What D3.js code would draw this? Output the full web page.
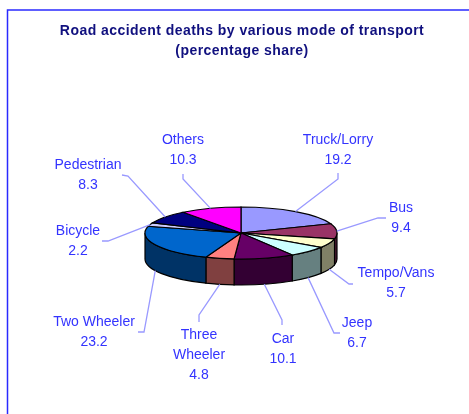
<!DOCTYPE html>
<html>
<head>
<meta charset="utf-8">
<script src="https://cdn.jsdelivr.net/npm/d3@7"></script>
<style>
    html, body { margin: 0; padding: 0; background: #fff; overflow: hidden; }
    svg { display: block; filter: blur(0.4px); }
    text { font-family: "Liberation Sans", Arial, sans-serif; }
</style>
</head>
<body>
<div class="chart"></div>
<script>
//chart values, clockwise from 12 o'clock
let categories = ['Truck/Lorry', 'Bus', 'Tempo/Vans', 'Jeep', 'Car', 'Three Wheeler', 'Two Wheeler', 'Bicycle', 'Pedestrian', 'Others']
let shares = [19.2, 9.4, 5.7, 6.7, 10.1, 4.8, 23.2, 2.2, 8.3, 10.3]
let titleLines = ['Road accident deaths by various mode of transport', '(percentage share)']

let topColors = ['#9999ff', '#993366', '#ffffcc', '#ccffff', '#660066', '#ff8080', '#0066cc', '#ccccff', '#000080', '#ff00ff']
let sideColors = ['#4d4d80', '#4d1a33', '#808066', '#668080', '#330033', '#804040', '#003366', '#666680', '#000040', '#800080']

let svgWidth = 469
let svgHeight = 414

//ellipse of the top face and height of the wall
let cx = 241
let cy = 233
let rx = 96
let ry = 26
let depth = 26

//where each label sits: centre x, first baseline, leader elbow and leader end
let labelLayout = [
    {x: 338, y: 144, elbow: [338, 179], end: [338, 173]},
    {x: 401, y: 212, elbow: [378, 218], end: [386, 218]},
    {x: 396, y: 277, elbow: [349, 284], end: [353, 284]},
    {x: 357, y: 327, elbow: [334, 333], end: [340, 333]},
    {x: 283, y: 343, elbow: [282, 320], end: [282, 325]},
    {x: 199, y: 339, elbow: [199, 315], end: [199, 322]},
    {x: 94, y: 326, elbow: [144, 332], end: [138, 332]},
    {x: 78, y: 235, elbow: [108, 241], end: [102, 241]},
    {x: 88, y: 169, elbow: [128, 176], end: [122, 175]},
    {x: 183, y: 144, elbow: [183, 179], end: [183, 174]}
]

let svg = d3.select('.chart')
    .append('svg')
    .attr('width', svgWidth)
    .attr('height', svgHeight)

//frame is cut off by the right and bottom of the picture
svg.append('path')
    .attr('d', d3.line()([[7.5, svgHeight], [7.5, 10], [svgWidth, 10]]))
    .attr('fill', 'none')
    .attr('stroke', '#2a2aff')
    .attr('stroke-width', 1.5)

svg.selectAll('.title')
    .data(titleLines)
    .join('text')
    .attr('class', 'title')
    .attr('x', 242)
    .attr('y', (d, i) => 35 + i * 20)
    .attr('text-anchor', 'middle')
    .attr('font-size', 14)
    .attr('font-weight', 'bold')
    .attr('letter-spacing', 0.45)
    .attr('fill', '#10107f')
    .text(d => d)

let pie = d3.pie().sort(null).value(d => d)
let slices = pie(shares)

//point on the top ellipse for a pie angle
function rimPoint(angle, drop) {
    return [cx + rx * Math.sin(angle), cy - ry * Math.cos(angle) + drop]
}

//wall of a slice, only the part of it facing the viewer
function wallPath(slice) {
    let a0 = Math.max(slice.startAngle, Math.PI / 2)
    let a1 = Math.min(slice.endAngle, Math.PI * 1.5)
    if (a1 <= a0) { return null }
    let p0 = rimPoint(a0, 0)
    let p1 = rimPoint(a1, 0)
    let p2 = rimPoint(a1, depth)
    let p3 = rimPoint(a0, depth)
    return `M${p0}A${rx},${ry} 0 0 1 ${p1}L${p2}A${rx},${ry} 0 0 0 ${p3}Z`
}

svg.append('g')
    .selectAll('path')
    .data(slices.filter(d => wallPath(d) !== null))
    .join('path')
    .attr('d', wallPath)
    .attr('fill', d => sideColors[d.index])
    .attr('stroke', '#000')
    .attr('stroke-width', 1.2)

//top face: a unit pie squashed into the ellipse
let arc = d3.arc().innerRadius(0).outerRadius(1)

svg.append('g')
    .attr('transform', `translate(${cx},${cy}) scale(${rx},${ry})`)
    .selectAll('path')
    .data(slices)
    .join('path')
    .attr('d', arc)
    .attr('fill', d => topColors[d.index])
    .attr('stroke', '#000')
    .attr('stroke-width', 1.2)
    .attr('vector-effect', 'non-scaling-stroke')

//leader lines start on the visible rim at the middle of the slice
svg.append('g')
    .selectAll('path')
    .data(slices)
    .join('path')
    .attr('d', d => {
        let mid = (d.startAngle + d.endAngle) / 2
        let drop = Math.cos(mid) < 0 ? depth : 0
        return d3.line()([rimPoint(mid, drop), labelLayout[d.index].elbow, labelLayout[d.index].end])
    })
    .attr('fill', 'none')
    .attr('stroke', '#9999ff')
    .attr('stroke-width', 1.3)

//only Three Wheeler wraps in the picture
function labelLines(d) {
    let name = categories[d.index]
    let nameLines = name == 'Three Wheeler' ? name.split(' ') : [name]
    return nameLines.concat(d.data.toFixed(1))
}

let labels = svg.append('g')
    .selectAll('text')
    .data(slices)
    .join('text')
    .attr('text-anchor', 'middle')
    .attr('font-size', 14)
    .attr('fill', '#3333ff')

labels.selectAll('tspan')
    .data(d => {
        let place = labelLayout[d.index]
        return labelLines(d).map((line, i) => ({line, x: place.x, y: place.y + i * 20}))
    })
    .join('tspan')
    .attr('x', d => d.x)
    .attr('y', d => d.y)
    .text(d => d.line)
</script>
</body>
</html>
